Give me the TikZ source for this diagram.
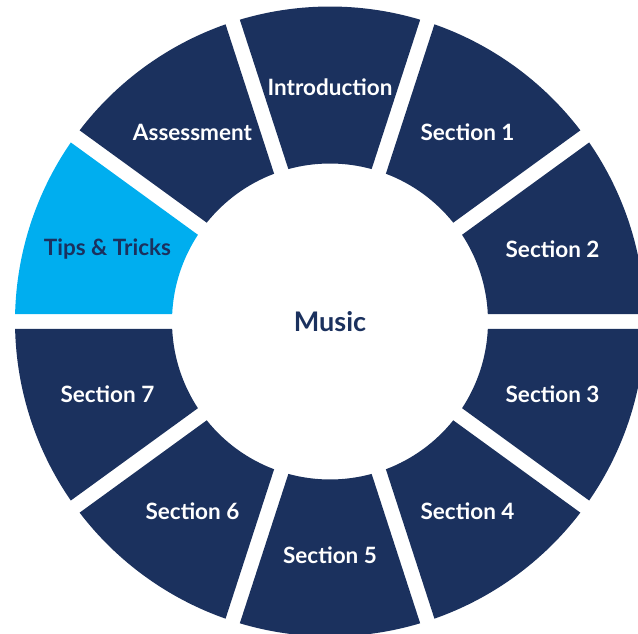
\documentclass[tikz,border=0pt]{standalone}
\usepackage{fontspec}
\setmainfont{Lato}
\definecolor{navy}{HTML}{1B315E}
\definecolor{tipblue}{HTML}{00AEEF}
\tikzset{
  seg/.style={fill=navy},
  segtip/.style={fill=tipblue},
  lab/.style={text=white, font=\bfseries\fontsize{22.5}{26}\selectfont, inner sep=0pt},
  labtip/.style={lab, text=navy},
  hub/.style={text=navy, font=\bfseries\fontsize{27}{30}\selectfont, inner sep=0pt}
}
\begin{document}
\begin{tikzpicture}[x=1pt,y=1pt]
\useasboundingbox (-330,-312.5) rectangle (308,321.5);
\def\Ro{315}
\def\Ri{158}
\pgfmathsetmacro{\dO}{asin(7.5/\Ro)}
\pgfmathsetmacro{\dI}{asin(7.5/\Ri)}
\foreach \m/\nm/\txt [count=\k] in {90/intro/Introduction, 54/s1/Section 1, 18/s2/Section 2, -18/s3/Section 3, -54/s4/Section 4, -90/s5/Section 5, -126/s6/Section 6, -162/s7/Section 7, 162/tips/Tips \& Tricks, 126/assess/Assessment}{
  \pgfmathsetmacro{\aA}{\m-18+\dO}
  \pgfmathsetmacro{\aB}{\m+18-\dO}
  \pgfmathsetmacro{\aC}{\m+18-\dI}
  \pgfmathsetmacro{\aD}{\m-18+\dI}
  \ifnum\k=9
    \def\st{segtip}\def\lst{labtip}
  \else
    \def\st{seg}\def\lst{lab}
  \fi
  \path[\st] (\aA:\Ro pt) arc[start angle=\aA, end angle=\aB, radius=\Ro pt]
    -- (\aC:\Ri pt) arc[start angle=\aC, end angle=\aD, radius=\Ri pt] -- cycle;
  \node[\lst] (\nm) at (\m:234pt) {\txt};
}
\node[hub] (music) at (0,0) {Music};
\end{tikzpicture}
\end{document}
